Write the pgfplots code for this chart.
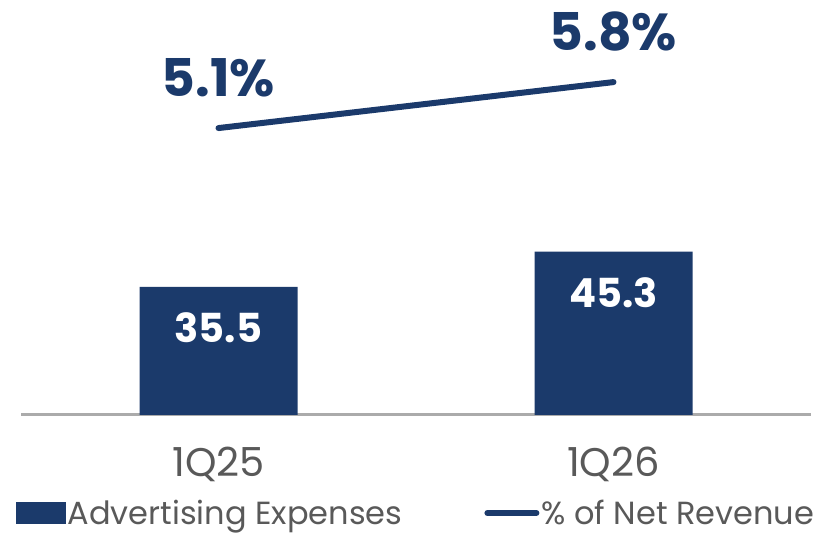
\documentclass[border=0pt]{standalone}
\usepackage{pgfplots}
\pgfplotsset{compat=1.18}
\usepackage{fontspec}
\setmainfont{Poppins}
\definecolor{navy}{HTML}{1B3A6B}
\definecolor{txtgray}{HTML}{595959}
\definecolor{axgray}{HTML}{ABABAB}
\begin{document}
\begin{tikzpicture}[x=1pt,y=1pt]
\path[use as bounding box] (0,0) rectangle (823,535);
% bars: advertising expenses
\begin{axis}[
  at={(21pt,120pt)}, anchor=south west,
  scale only axis, width=790pt, height=415pt,
  xmin=-0.5, xmax=1.5, ymin=0, ymax=115,
  axis y line=none, axis x line*=bottom,
  x axis line style={draw=axgray, line width=3pt},
  xtick={0,1}, xticklabels={1Q25,1Q26},
  major tick length=0pt, ytick=\empty,
  xticklabel style={font=\fontsize{40}{40}\selectfont, text=txtgray, inner sep=0pt, anchor=north, yshift=-32pt},
  /pgf/number format/assume math mode=true,
  ybar, bar width=158pt,
  legend columns=2,
  legend style={at={(0.5,0)}, anchor=center, yshift=-98pt, draw=none, fill=none,
    font=\fontsize{32}{32}\selectfont, text=txtgray,
    /tikz/every even column/.append style={column sep=80pt}},
  legend cell align=left,
]
\addplot[fill=navy, draw=none,
  point meta=y,
  nodes near coords={\pgfmathprintnumber[fixed,fixed zerofill,precision=1]{\pgfplotspointmeta}},
  every node near coord/.append style={anchor=north, yshift=-26pt, inner sep=0pt, text=white, font=\fontsize{40}{40}\selectfont\bfseries},
  legend image code/.code={\fill[navy] (0pt,-11pt) rectangle (50pt,11pt);}]
  coordinates {(0,35.5) (1,45.3)};
\addlegendentry{Advertising Expenses}
\addlegendimage{legend image code/.code={\draw[navy, line width=6pt, line cap=round] (3pt,0pt) -- (52pt,0pt);}}
\addlegendentry{\% of Net Revenue}
\end{axis}
% line: % of net revenue
\begin{axis}[
  at={(21pt,120pt)}, anchor=south west,
  scale only axis, width=790pt, height=415pt,
  xmin=-0.5, xmax=1.5, ymin=0.732, ymax=7.05,
  axis lines=none, ticks=none,
  /pgf/number format/assume math mode=true,
]
\addplot[navy, line width=6pt, line cap=round, mark=none,
  point meta=y,
  nodes near coords={\pgfmathprintnumber[fixed,fixed zerofill,precision=1]{\pgfplotspointmeta}\%},
  every node near coord/.append style={anchor=south, yshift=28pt, inner sep=0pt, text=navy, font=\fontsize{52}{52}\selectfont\bfseries}]
  coordinates {(0,5.1) (1,5.8)};
\end{axis}
\end{tikzpicture}
\end{document}
